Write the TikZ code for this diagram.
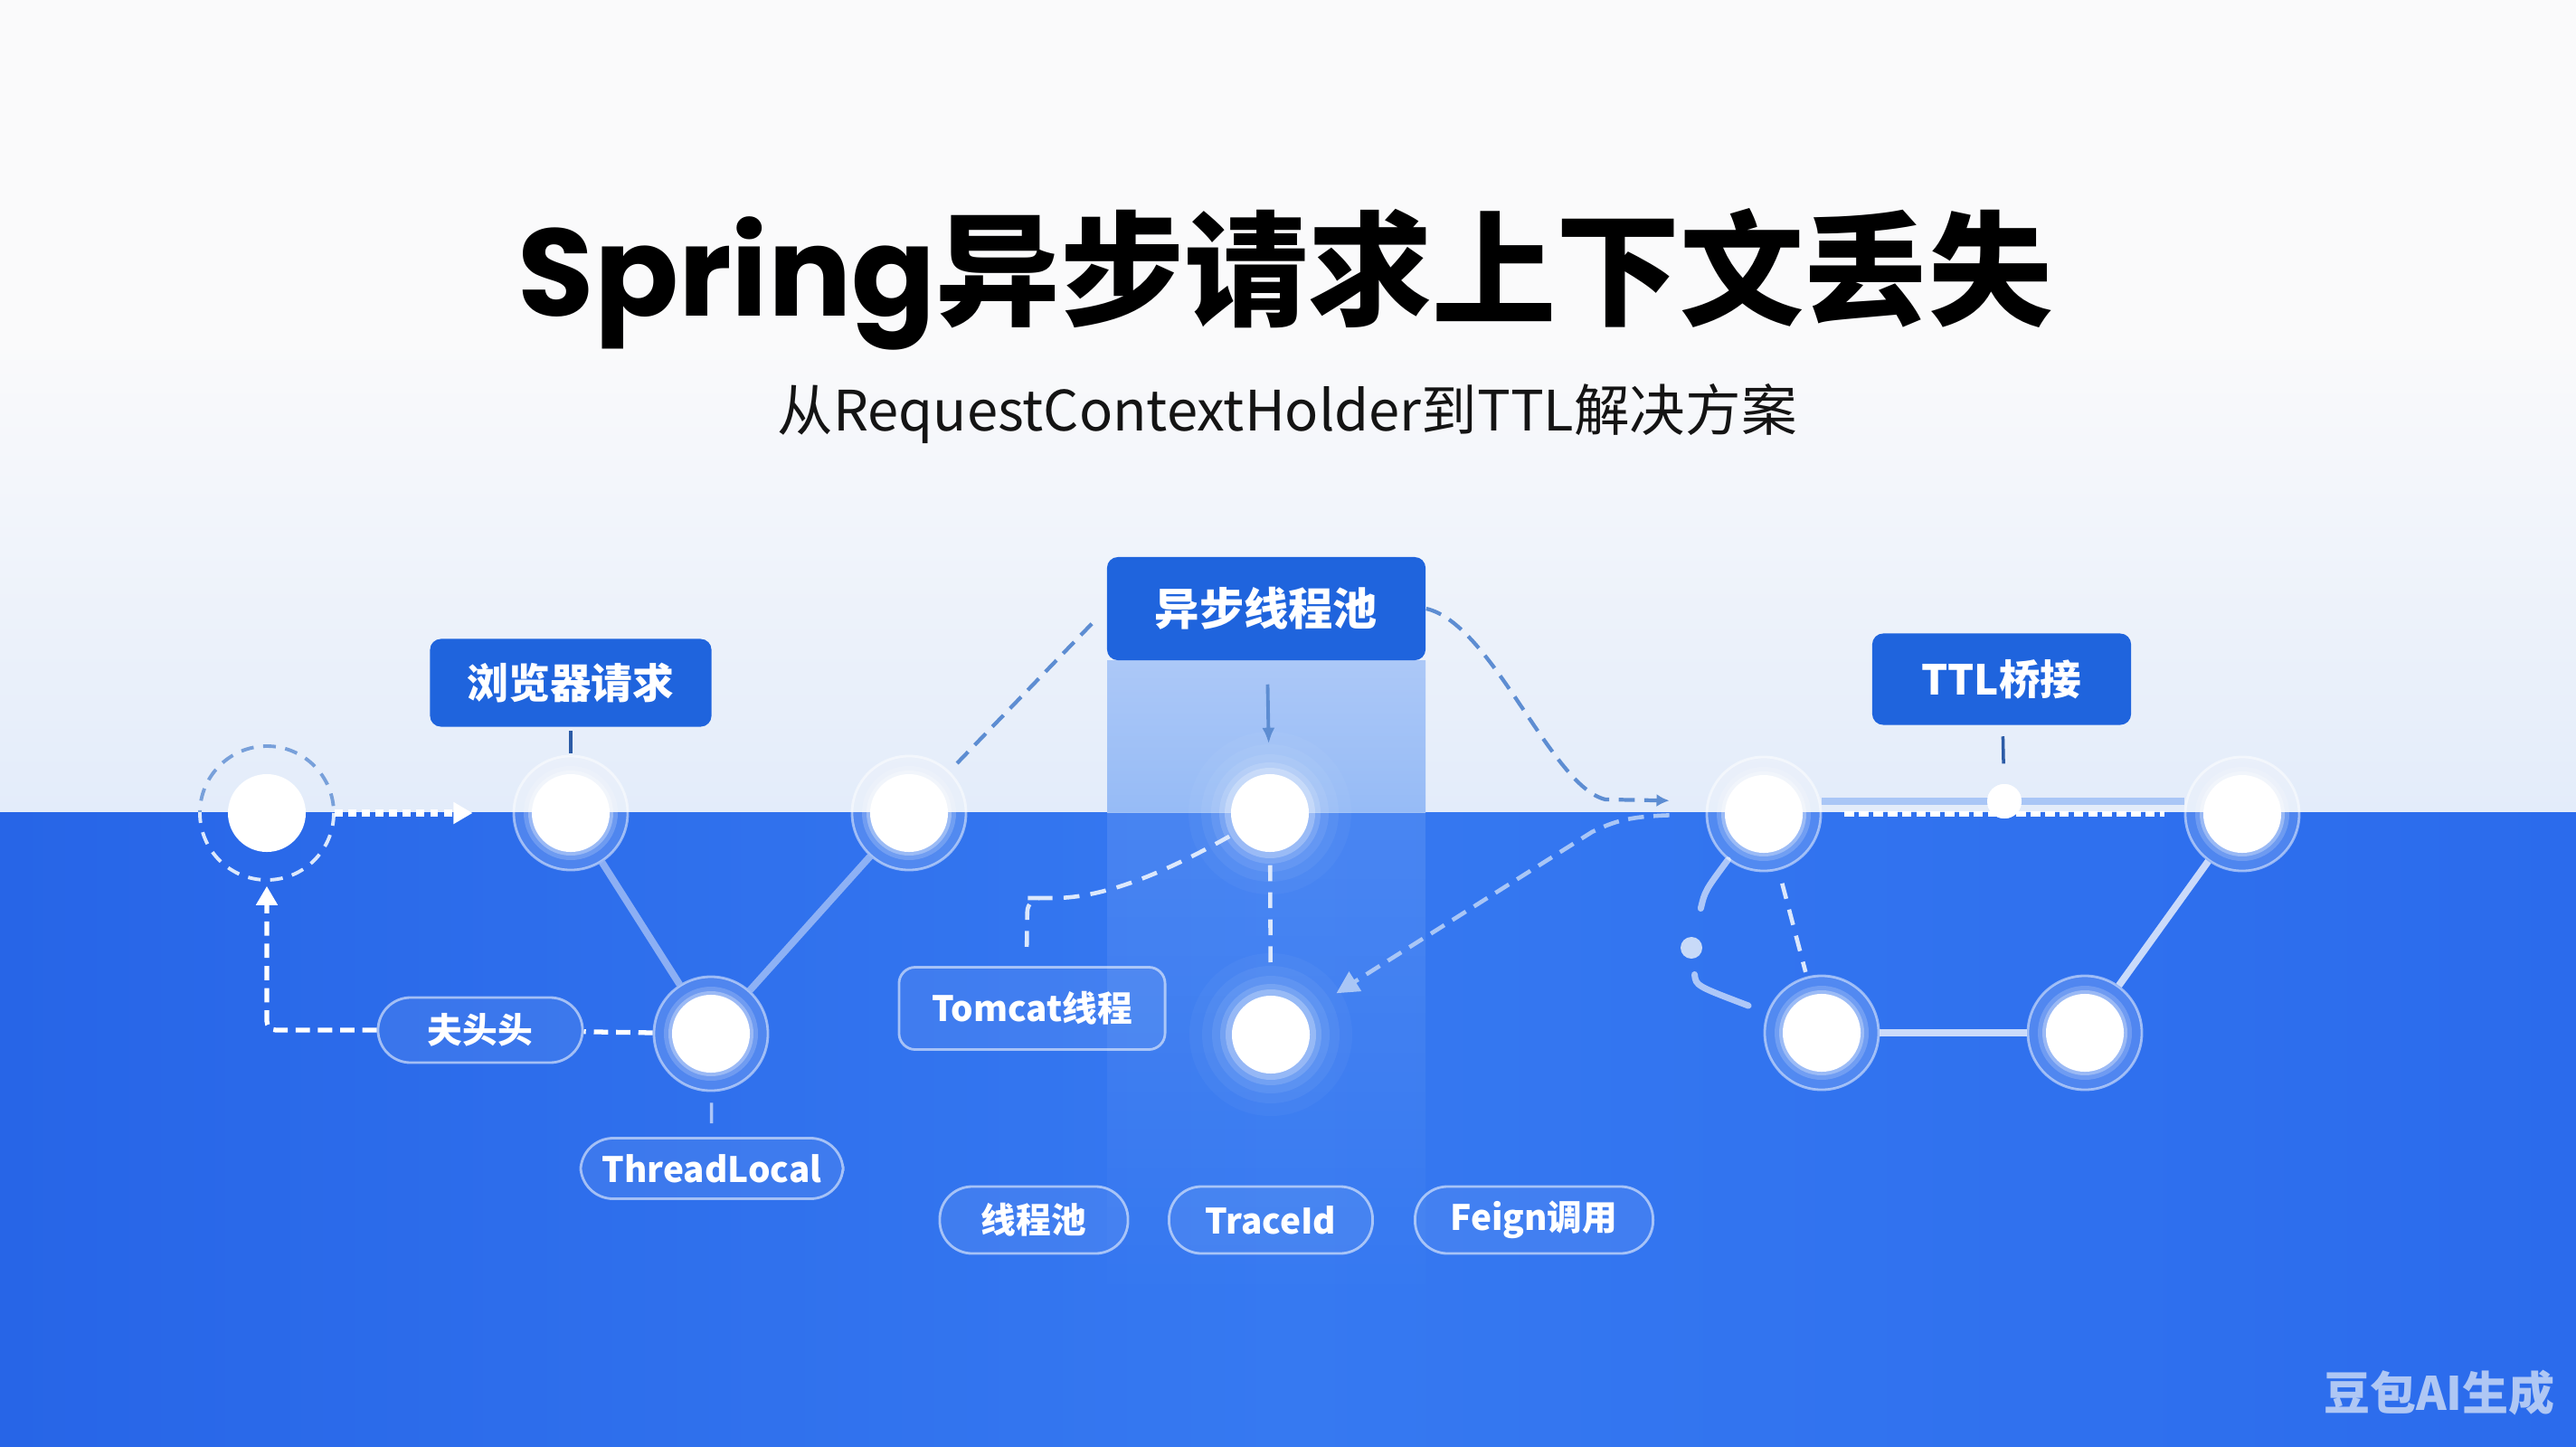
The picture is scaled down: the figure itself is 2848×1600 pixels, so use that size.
\documentclass[tikz,border=0pt]{standalone}
\usepackage{fontspec}
\setmainfont{Noto Sans CJK SC}
\newfontfamily\pop{Poppins}
\usetikzlibrary{arrows.meta,fadings,calc}
\definecolor{bgtop}{HTML}{FAFAFB}
\definecolor{bghor}{HTML}{E3ECFA}
\definecolor{blueL}{HTML}{2765E7}
\definecolor{blueM}{HTML}{3679F1}
\definecolor{blueR}{HTML}{2B6BEC}
\definecolor{boxblue}{HTML}{1F64DD}
\definecolor{steel}{HTML}{5D8DD2}
\definecolor{tickc}{HTML}{2C5BA6}
\definecolor{wm}{HTML}{AFC7F4}
\definecolor{wdashc}{HTML}{DCE8FC}
\definecolor{ltblue}{HTML}{A9C6F6}
\newcommand\glowat[2]{\foreach \rr/\oo in {#2}{\fill[white,opacity=\oo] (#1) circle (\rr);}}
\begin{document}
\begin{tikzpicture}[x=0.01cm,y=-0.01cm,
  ring/.style={circle, minimum size=1.26cm, inner sep=0pt, fill=white, fill opacity=0.16, draw=white, draw opacity=0.5, line width=0.8pt},
  core/.style={circle, minimum size=0.86cm, inner sep=0pt, fill=white},
  lbl/.style={rounded corners=0.12cm, fill=boxblue, text=white, inner sep=0pt, font=\bfseries\fontsize{13}{15}\selectfont},
  pill/.style={rounded corners=0.36cm, draw=white, draw opacity=0.55, fill=white, fill opacity=0.07, text opacity=1, text=white, line width=0.8pt, inner sep=0pt, font=\bfseries\fontsize{11}{13}\selectfont},
  softline/.style={white, opacity=0.45, line width=2.2pt},
  brightline/.style={white, opacity=0.75, line width=2.2pt},
  wdash/.style={wdashc, line width=1.3pt, dash pattern=on 5pt off 3.5pt},
  sdash/.style={steel, line width=1.2pt, dash pattern=on 5pt off 3pt},
  tickl/.style={tickc, line width=1pt}
]
\useasboundingbox (0,0) rectangle (2848,1600);
% background
\fill[bgtop] (0,0) rectangle (2848,380);
\shade[top color=bgtop, bottom color=bghor] (0,379) rectangle (2848,898);
\shade[left color=blueL, right color=blueR, middle color=blueM] (0,898) rectangle (2848,1600);
% column
\shade[top color={rgb,255:red,172;green,200;blue,247}, bottom color={rgb,255:red,150;green,187;blue,246}] (1224,730) rectangle (1576,898);
\fill[white, opacity=0.1, path fading=south] (1224,898) rectangle (1576,1450);

% title
\node[anchor=base, font=\bfseries\fontsize{39}{44}\selectfont] (title) at (1421,349) {{\pop\bfseries Spring}异步请求上下文丢失};
\node[anchor=base, font=\fontsize{17.5}{20}\selectfont, text={rgb,255:red,20;green,20;blue,20}] (sub) at (1423,476) {从RequestContextHolder到TTL解决方案};

% label boxes
\node[lbl, minimum width=3.11cm, minimum height=0.97cm] (bq) at (631,755) {浏览器请求};
\node[lbl, minimum width=3.52cm, minimum height=1.14cm, font=\bfseries\fontsize{14}{16}\selectfont] (yb) at (1400,673) {异步线程池};
\node[lbl, minimum width=2.86cm, minimum height=1.01cm] (ttl) at (2213,751) {TTL桥接};

% nodes
\node[circle, minimum size=1.48cm, inner sep=0pt] (r1) at (295,899) {};
\node[ring] (r2) at (631,899) {};
\node[ring] (r3) at (1005,899) {};
\node[ring] (r5) at (1950,900) {};
\node[ring] (r6) at (2479,900) {};
\node[ring] (r7) at (786,1143) {};
\node[ring] (r9) at (2014,1142) {};
\node[ring] (r10) at (2305,1142) {};

% dashed ring of n1
\begin{scope}
\clip (150,750) rectangle (450,898);
\draw[steel, opacity=0.8, line width=1.1pt, dash pattern=on 4pt off 3pt] (r1) circle (74);
\end{scope}
\begin{scope}
\clip (150,898) rectangle (450,1050);
\draw[wdashc, line width=1.1pt, dash pattern=on 4pt off 3pt] (r1) circle (74);
\end{scope}

% pills
\node[pill, minimum width=2.26cm, minimum height=0.72cm] (fu) at (531,1139) {夫头头};
\node[pill, minimum width=2.90cm, minimum height=0.67cm] (tl) at (787,1292) {ThreadLocal};
\node[pill, rounded corners=0.18cm, minimum width=2.94cm, minimum height=0.91cm] (tc) at (1141,1115) {Tomcat线程};
\node[pill, minimum width=2.08cm, minimum height=0.74cm] (xc) at (1143,1349) {线程池};
\node[pill, minimum width=2.25cm, minimum height=0.74cm] (tid) at (1405,1349) {TraceId};
\node[pill, minimum width=2.63cm, minimum height=0.74cm] (fg) at (1696,1349) {Feign调用};

% glow-only nodes
\coordinate (p4) at (1404,899);
\coordinate (p8) at (1405,1144);
\glowat{p4}{90/0.035,76/0.05,65/0.08,56/0.14,50/0.25}
\glowat{p8}{90/0.035,76/0.05,65/0.08,56/0.14,50/0.25}
\node[core] (n4) at (p4) {};
\node[core] (n8) at (p8) {};

% cores
\node[core] (n1) at (r1) {};
\node[core] (n2) at (r2) {};
\node[core] (n3) at (r3) {};
\node[core] (n5) at (r5) {};
\node[core] (n6) at (r6) {};
\node[core] (n7) at (r7) {};
\node[core] (n9) at (r9) {};
\node[core] (n10) at (r10) {};
\foreach \c in {n2,n3,n5,n6,n7,n9,n10}{\glowat{\c}{52/0.18,47/0.3}}

\node[circle, fill=white, minimum size=0.38cm, inner sep=0pt] (tdot) at (2216,886) {};
\node[circle, fill={rgb,255:red,200;green,218;blue,248}, minimum size=0.24cm, inner sep=0pt] (sdot) at (1870,1048) {};
\coordinate (cend) at (1933,1112);

% connectors left group
\draw[tickl, shorten <=0.04cm, shorten >=0.02cm] (bq) -- (r2);
\draw[white, line width=2.2pt, dash pattern=on 2.5pt off 1.8pt, -{Triangle[length=6pt,width=6.5pt]}, shorten >=0.44cm] (r1) -- (r2);
\draw[softline] (r2) -- (r7);
\draw[softline] (r3) -- (r7);
\draw[white, line width=1.5pt, dash pattern=on 4.5pt off 2.5pt] (r7) -- (fu);
\draw[white, line width=1.5pt, dash pattern=on 4.5pt off 2.5pt, rounded corners=0.1cm, -{Triangle[length=6pt,width=6.5pt]}, shorten >=0.06cm] (fu.west) -| (r1);
\draw[tickl, white, opacity=0.6, shorten <=0.12cm, shorten >=0.15cm] (r7) -- (tl);

% middle group
\draw[sdash, shorten <=0.12cm, shorten >=0.2cm] (r3) -- (yb.west);
\draw[steel, line width=1.1pt, -{Latex[length=5pt,width=4pt]}, shorten <=0.26cm, shorten >=0.33cm] (yb) -- (n4);
\draw[wdash, shorten <=0.14cm, shorten >=0.31cm] (n4) -- (n8);
\draw[wdash, shorten <=0.08cm, rounded corners=0.15cm] (n4.210) .. controls (1270,975) and (1210,993) .. (1150,993) -- (1136,993) -- ([xshift=-0.06cm, yshift=0.1cm]tc.north);
\draw[sdash, -{Latex[length=4pt,width=4pt]}, shorten >=0.4cm] (yb.east) .. controls (1650,690) and (1715,870) .. (1775,884) -- ([yshift=0.14cm]r5.west);
\draw[ltblue, line width=1.3pt, dash pattern=on 5pt off 3pt, -{Triangle[length=7pt,width=7pt]}, shorten <=0.4cm, shorten >=0.42cm] (r5.west) .. controls (1800,903) and (1785,908) .. (1760,920) -- (n8);

% right group
\draw[tickl, shorten <=0.12cm, shorten >=0.22cm] (ttl) -- (tdot);
\draw[ltblue, line width=2.4pt] ([yshift=0.14cm]r5.east) -- ([yshift=0.14cm]r6.west);
\draw[white, line width=1.5pt, dash pattern=on 3pt off 1.5pt, shorten <=0.25cm, shorten >=0.22cm] (r5) -- (r6);
\node[circle, fill=white, minimum size=0.38cm, inner sep=0pt] at (tdot) {};
\draw[brightline] (r9) -- (r10);
\draw[brightline] (r10) -- (r6);
\draw[wdash, shorten <=0.15cm, shorten >=0.05cm] (r5) -- (r9);
\draw[white, opacity=0.6, line width=2pt, line cap=round, shorten >=0.32cm] (r5.232) .. controls (1885,985) .. (sdot);
\draw[white, opacity=0.6, line width=2pt, line cap=round, shorten <=0.17cm] (sdot) .. controls (1875,1090) .. (cend);

% watermark
\node[font=\bfseries\fontsize{14.5}{16}\selectfont, text=wm] (wmk) at (2697,1540) {豆包AI生成};
\end{tikzpicture}
\end{document}
